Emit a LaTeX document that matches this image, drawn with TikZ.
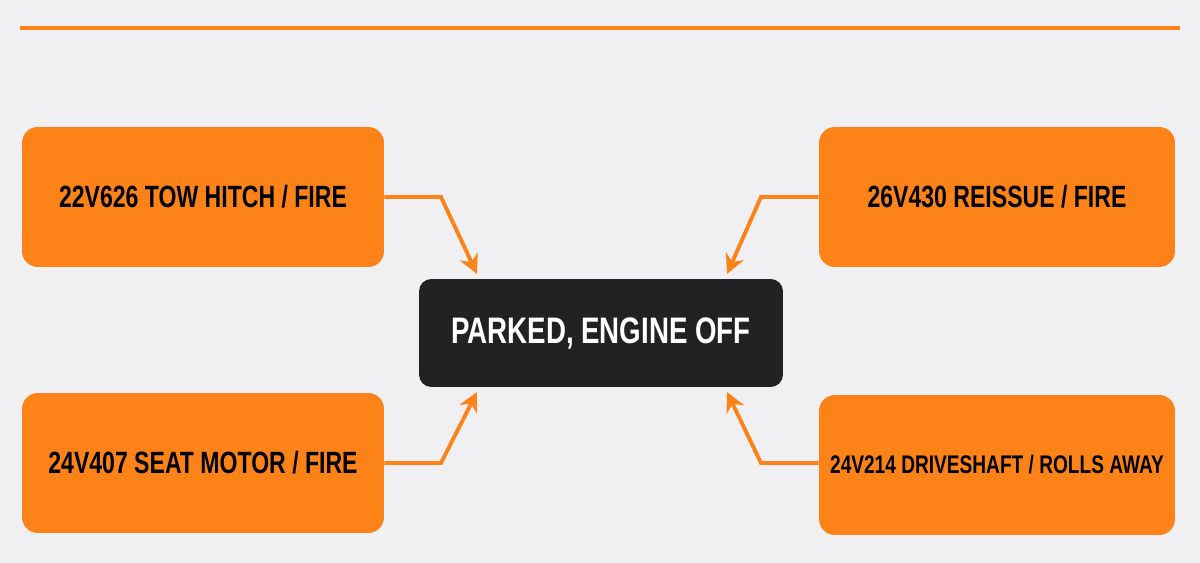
\documentclass[tikz,border=0pt]{standalone}
\usepackage{fontspec}
\setmainfont{Liberation Sans}[FakeStretch=0.75]
\usetikzlibrary{positioning,arrows.meta}
\definecolor{bgray}{RGB}{240,240,242}
\definecolor{orng}{RGB}{253,130,24}
\definecolor{dark}{RGB}{34,34,34}

\begin{document}
\begin{tikzpicture}[x=0.02cm,y=-0.02cm,
  cause/.style={fill=orng,rounded corners=9pt,minimum width=7.24cm,minimum height=2.8cm,
    text=black,font=\bfseries\fontsize{17.5}{20}\selectfont,inner sep=0pt},
  effect/.style={fill=dark,rounded corners=7pt,minimum width=7.28cm,minimum height=2.16cm,
    text=white,font=\bfseries\fontsize{21}{24}\selectfont},
  link/.style={draw=orng,line width=2.2pt,-{Stealth[length=11pt,width=11pt]}}]
\fill[bgray] (0,0) rectangle (1200,563);
\useasboundingbox (0,0) rectangle (1200,563);

\draw[orng,line width=2.5pt] (20,28) -- (1180,28);

\node[effect] (park) at (601,333) {PARKED, ENGINE OFF};

\node[cause] (tow) at (203,197) {22V626 TOW HITCH / FIRE};
\node[cause,minimum width=7.12cm] (reissue) at (997,197) {26V430 REISSUE / FIRE};
\node[cause] (seat) at (203,463) {24V407 SEAT MOTOR / FIRE};
\node[cause,minimum width=7.12cm,font=\bfseries\fontsize{14.5}{18}\selectfont] (shaft) at (997,465) {24V214 DRIVESHAFT / ROLLS AWAY};

% bends and tips
\coordinate (b1) at (441,197);
\coordinate (b2) at (761,197);
\coordinate (b3) at (441,463);
\coordinate (b4) at (761,463);
\coordinate (t1) at (477,274);
\coordinate (t2) at (727,274);
\coordinate (t3) at (477,392);
\coordinate (t4) at (727,392);

\draw[link] (tow.east) -- (b1) -- (t1);
\draw[link] (reissue.west) -- (b2) -- (t2);
\draw[link] (seat.east) -- (b3) -- (t3);
\draw[link] (shaft.west |- b4) -- (b4) -- (t4);
\end{tikzpicture}
\end{document}
